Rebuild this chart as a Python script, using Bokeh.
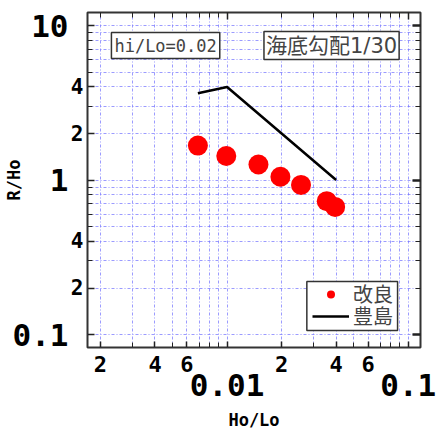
import numpy as np
from bokeh.plotting import figure
from bokeh.models import LogAxis, FixedTicker, Grid, Label, Legend, LegendItem, BoxAnnotation
from bokeh.embed import file_html
from bokeh.resources import INLINE

# ---- data ----
kairyo_x = [0.0069, 0.0099, 0.0149, 0.0197, 0.0256, 0.0355, 0.0395]
kairyo_y = [1.67, 1.43, 1.26, 1.05, 0.93, 0.73, 0.67]
teshima_x = [0.0069, 0.010, 0.020, 0.040]
teshima_y = [3.64, 4.0, 2.0, 1.0]

x_small_ticks = [0.002, 0.004, 0.006, 0.02, 0.04, 0.06]
x_small_labels = ["2", "4", "6", "2", "4", "6"]
x_big_ticks = [0.01, 0.1]
x_big_labels = ["0.01", "0.1"]
y_small_ticks = [0.2, 0.4, 2, 4]
y_small_labels = ["2", "4", "2", "4"]
y_big_ticks = [0.1, 1, 10]
y_big_labels = ["0.1", "1", "10"]

x_lim = (0.001696, 0.1169)
y_lim = (0.0824, 12.14)

# all grid / minor positions
x_all = [m * 10.0 ** e for e in (-3, -2) for m in range(2, 10)] + [0.01, 0.1]
y_all = [m * 10.0 ** e for e in (-1, 0) for m in range(1, 10)] + [10]
x_minor = [v for v in x_all if not any(abs(v - t) < 1e-12 for t in x_small_ticks + x_big_ticks)]
y_minor = [v for v in y_all if not any(abs(v - t) < 1e-12 for t in y_small_ticks + y_big_ticks)]

FRAME_L, FRAME_T, FW, FH = 86, 12, 334, 335
W, H = 443, 432
xl0, xl1 = np.log10(x_lim[0]), np.log10(x_lim[1])
yl0, yl1 = np.log10(y_lim[0]), np.log10(y_lim[1])


def px_x(cx):
    return 10 ** (xl0 + (cx - FRAME_L) / FW * (xl1 - xl0))


def px_y(cy):
    return 10 ** (yl1 - (cy - FRAME_T) / FH * (yl1 - yl0))


TICKFONT = "DejaVu Sans Mono"
JPFONT = "DejaVu Sans, Noto Sans CJK JP"

p = figure(width=W, height=H, x_axis_type="log", y_axis_type="log",
           x_range=x_lim, y_range=y_lim,
           x_axis_location=None, y_axis_location=None,
           output_backend="svg", toolbar_location=None,
           min_border_left=FRAME_L, min_border_top=FRAME_T,
           min_border_right=W - FRAME_L - FW, min_border_bottom=H - FRAME_T - FH)
p.background_fill_color = "white"
p.border_fill_color = "white"
p.outline_line_color = "#333333"
p.outline_line_width = 2
p.center = [r for r in p.center if not isinstance(r, Grid)]

grid_kw = dict(grid_line_color="#7070ff", grid_line_dash="3 2 1 2", grid_line_width=1, grid_line_alpha=0.7)
p.add_layout(Grid(dimension=0, ticker=FixedTicker(ticks=x_all), **grid_kw))
p.add_layout(Grid(dimension=1, ticker=FixedTicker(ticks=y_all), **grid_kw))


def style_ticks(ax, major_len, minor_len):
    ax.axis_line_color = None
    ax.major_tick_in = major_len
    ax.major_tick_out = 0
    ax.minor_tick_in = minor_len
    ax.minor_tick_out = 0
    ax.major_tick_line_color = "#222222"
    ax.minor_tick_line_color = "#222222"
    ax.major_tick_line_width = 1.5
    ax.minor_tick_line_width = 1


def hide_ticks(ax):
    ax.axis_line_color = None
    ax.major_tick_line_color = None
    ax.minor_tick_line_color = None


def label_font(ax, size, standoff):
    ax.major_label_text_font = TICKFONT
    ax.major_label_text_font_style = "bold"
    ax.major_label_text_font_size = size
    ax.major_label_text_color = "black"
    ax.major_label_standoff = standoff


def title_font(ax, text, standoff):
    ax.axis_label = text
    ax.axis_label_text_font = TICKFONT
    ax.axis_label_text_font_style = "bold"
    ax.axis_label_text_font_size = "17px"
    ax.axis_label_text_color = "black"
    ax.axis_label_standoff = standoff


# bottom inner axis: ticks + small labels
xb_ticks = x_small_ticks + x_big_ticks
xb_over = {t: l for t, l in zip(x_small_ticks, x_small_labels)}
xb_over.update({t: " " for t in x_big_ticks})
ax_b1 = LogAxis(ticker=FixedTicker(ticks=xb_ticks, minor_ticks=x_minor), major_label_overrides=xb_over)
style_ticks(ax_b1, 6, 5)
label_font(ax_b1, "22px", 4)
p.add_layout(ax_b1, "below")

ax_b2 = LogAxis(ticker=FixedTicker(ticks=x_big_ticks, minor_ticks=[]),
                major_label_overrides=dict(zip(x_big_ticks, x_big_labels)))
hide_ticks(ax_b2)
label_font(ax_b2, "31px", -12)
title_font(ax_b2, "Ho/Lo", 11)
p.add_layout(ax_b2, "below")

# left inner axis
yl_ticks = y_small_ticks + y_big_ticks
yl_over = {t: l for t, l in zip(y_small_ticks, y_small_labels)}
yl_over.update({t: " " for t in y_big_ticks})
ax_l1 = LogAxis(ticker=FixedTicker(ticks=yl_ticks, minor_ticks=y_minor), major_label_overrides=yl_over)
style_ticks(ax_l1, 7, 5)
label_font(ax_l1, "21px", 4)
ax_l1.major_label_orientation = "horizontal"
p.add_layout(ax_l1, "left")

ax_l2 = LogAxis(ticker=FixedTicker(ticks=y_big_ticks, minor_ticks=[]),
                major_label_overrides=dict(zip(y_big_ticks, y_big_labels)))
hide_ticks(ax_l2)
label_font(ax_l2, "31px", -7)
ax_l2.major_label_orientation = "horizontal"
title_font(ax_l2, "R/Ho", -14)
p.add_layout(ax_l2, "left")

# right and top tick-only axes
ax_r = LogAxis(ticker=FixedTicker(ticks=y_big_ticks, minor_ticks=[v for v in y_all if v not in y_big_ticks]),
               major_label_overrides={t: " " for t in y_big_ticks})
style_ticks(ax_r, 8, 5)
ax_r.major_tick_line_width = 2.5
ax_r.major_label_text_font_size = "1px"
ax_r.major_label_standoff = 0
p.add_layout(ax_r, "right")

ax_t = LogAxis(ticker=FixedTicker(ticks=x_big_ticks, minor_ticks=[v for v in x_all if v not in x_big_ticks]),
               major_label_overrides={t: " " for t in x_big_ticks})
style_ticks(ax_t, 7, 5)
ax_t.major_label_text_font_size = "1px"
ax_t.major_label_standoff = 0
p.add_layout(ax_t, "above")

# data
ln = p.line(teshima_x, teshima_y, line_color="black", line_width=2.5)
sc = p.scatter(kairyo_x, kairyo_y, size=20, fill_color="#ff0000", line_color=None)

# legend frame + two single-item legends (keeps the box compact)
p.add_layout(BoxAnnotation(left=px_x(306), right=px_x(397), top=px_y(281), bottom=px_y(330),
                           fill_color="white", fill_alpha=1.0,
                           line_color="#333333", line_width=1.5, line_alpha=1.0))
leg_kw = dict(glyph_width=37, glyph_height=20, label_standoff=4,
              label_text_font=JPFONT, label_text_font_size="20px",
              label_height=20, spacing=0, padding=0, margin=0,
              border_line_color=None, background_fill_alpha=0.0)
FB = FRAME_T + FH  # frame bottom in pixels
p.add_layout(Legend(items=[LegendItem(label="改良", renderers=[sc])], location=(225, FB - 296 - 12), **leg_kw))
p.add_layout(Legend(items=[LegendItem(label="豊島", renderers=[ln])], location=(225, FB - 318 - 12), **leg_kw))

# annotation boxes
p.add_layout(Label(x=px_x(110), y=px_y(32), text="hi/Lo=0.02", text_font="DejaVu Sans Mono",
                   text_font_size="17px", text_align="left", text_baseline="top",
                   border_line_color="#333333", border_line_width=1.5,
                   background_fill_color="white", padding=3))
p.add_layout(Label(x=px_x(263), y=px_y(31), text="海底勾配1/30", text_font=JPFONT,
                   text_font_size="21px", text_align="left", text_baseline="top",
                   border_line_color="#333333", border_line_width=1.5,
                   background_fill_color="white", padding=2))

open("out.html", "w").write(file_html(p, INLINE))
